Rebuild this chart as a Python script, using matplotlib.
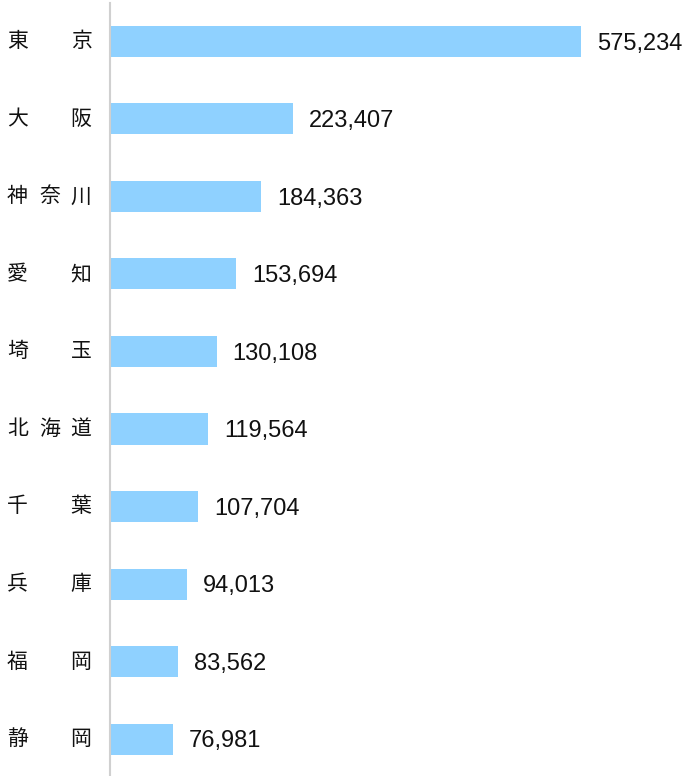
import matplotlib
matplotlib.use("Agg")
import matplotlib.pyplot as plt
import matplotlib.transforms as mtransforms

# data
prefectures = ["東京", "大阪", "神奈川", "愛知", "埼玉", "北海道", "千葉", "兵庫", "福岡", "静岡"]
values = [575234, 223407, 184363, 153694, 130108, 119564, 107704, 94013, 83562, 76981]

W, H = 685, 776
fig = plt.figure(figsize=(W / 100, H / 100), dpi=100)

# axes from x=110px to right edge, y=3px to bottom
ax = fig.add_axes([110 / W, 0, 1 - 110 / W, (H - 3) / H])
pos = list(range(len(values)))
ax.barh(pos, values, height=0.4, color="#8fd1ff", left=0)
ax.set_xlim(0, 575234 * (W - 110) / 471)
ax.set_ylim((H - 41.5) / 77.5, (3 - 41.5) / 77.5)

for s in ["top", "right", "bottom"]:
    ax.spines[s].set_visible(False)
ax.spines["left"].set_color("#d0d0d0")
ax.spines["left"].set_linewidth(1.5)
ax.set_xticks([])
ax.set_yticks([])

# value labels
for i, v in enumerate(values):
    ax.annotate(f"{v:,}", (v, i), xytext=(11.5, -1.5), textcoords="offset points",
                va="center", ha="left", fontsize=17, family=["Liberation Sans", "DejaVu Sans"],
                color="#111111")

# category labels, characters spread over the label width
tr = mtransforms.blended_transform_factory(fig.transFigure, ax.transData)
for i, name in enumerate(prefectures):
    if len(name) == 2:
        xs = [17.5, 81]
    else:
        xs = [17.5, 49.5, 81]
    for ch, x in zip(name, xs):
        ax.text(x / W, i, ch, transform=tr, ha="center", va="center", fontsize=15,
                family=["Noto Sans CJK JP", "DejaVu Sans"], color="#111111")

fig.savefig("out.png", dpi=100)
